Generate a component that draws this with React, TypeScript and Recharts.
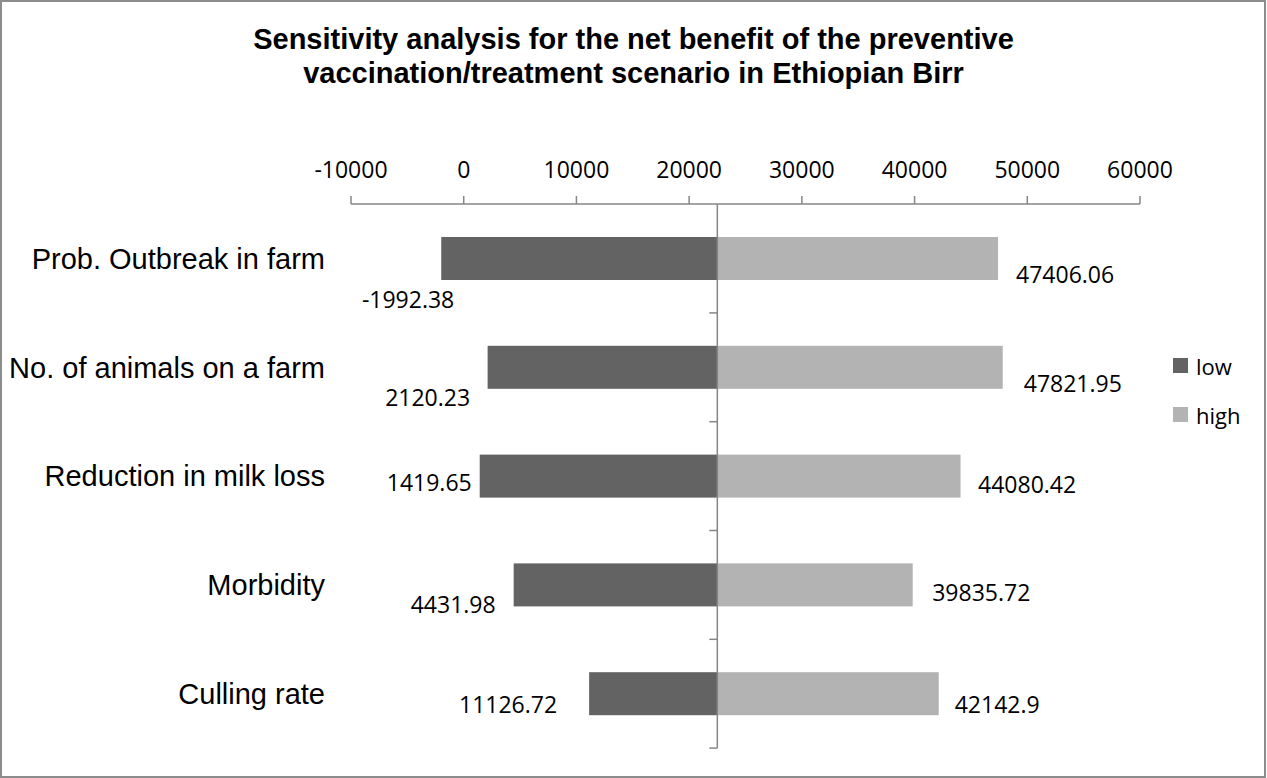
import { BarChart, Bar, XAxis, YAxis, ReferenceLine } from "recharts";

const CATEGORIES = [
	"Prob. Outbreak in farm",
	"No. of animals on a farm",
	"Reduction in milk loss",
	"Morbidity",
	"Culling rate",
];
const LOW = [-1992.38, 2120.23, 1419.65, 4431.98, 11126.72];
const HIGH = [47406.06, 47821.95, 44080.42, 39835.72, 42142.9];
const BASE = 22500;
const X_TICKS = [-10000, 0, 10000, 20000, 30000, 40000, 50000, 60000];

const LOW_COLOR = "#636363";
const HIGH_COLOR = "#b3b3b3";
const AXIS_COLOR = "#868686";
const CALIBRI = "'Open Sans', sans-serif";
const ARIAL = "'Liberation Sans', Arial, sans-serif";

const W = 1267;
const H = 778;
const MARGIN = { top: 120, right: 127, bottom: 30, left: 0 };
const X_AXIS_H = 84;
const PLOT_H = H - MARGIN.top - X_AXIS_H - MARGIN.bottom;

// hand placed data labels, as in the original chart: [dx, dy]
const LOW_NUDGE = [
	[13, 41.5],
	[-17.5, 30],
	[-8, 7],
	[-18, 20],
	[-32, 11.5],
];
const HIGH_NUDGE = [
	[18, 16.5],
	[21, 16],
	[17.5, 9],
	[19.5, 8],
	[16, 11.5],
];

const data = CATEGORIES.map((name, i) => ({
	name,
	low: [LOW[i], BASE],
	high: [BASE, HIGH[i]],
}));

const rowIndex = (p: any) =>
	typeof p.index === "number" ? p.index : CATEGORIES.indexOf(p.payload?.name);

const LowBar = (p: any) => {
	const { x, y, width, height } = p;
	const i = rowIndex(p);
	const cy = y + height / 2;
	const baseX = x + width;
	const band = PLOT_H / CATEGORIES.length;
	const [dx, dy] = LOW_NUDGE[i];
	return (
		<g>
			<rect x={x} y={y} width={width} height={height} fill={LOW_COLOR} />
			<line
				x1={baseX - 8}
				x2={baseX}
				y1={cy + band / 2}
				y2={cy + band / 2}
				stroke={AXIS_COLOR}
				strokeWidth={1.5}
			/>
			<text
				x={x + dx}
				y={cy + dy}
				dy="0.36em"
				textAnchor="end"
				fontFamily={CALIBRI}
				fontSize={23}
				fill="#000"
			>
				{String(LOW[i])}
			</text>
		</g>
	);
};

const HighBar = (p: any) => {
	const { x, y, width, height } = p;
	const i = rowIndex(p);
	const cy = y + height / 2;
	const [dx, dy] = HIGH_NUDGE[i];
	return (
		<g>
			<rect x={x} y={y} width={width} height={height} fill={HIGH_COLOR} />
			<text
				x={x + width + dx}
				y={cy + dy}
				dy="0.36em"
				textAnchor="start"
				fontFamily={CALIBRI}
				fontSize={23}
				fill="#000"
			>
				{String(HIGH[i])}
			</text>
		</g>
	);
};

const CategoryTick = (p: any) => (
	<text
		x={325}
		y={p.y}
		dy="0.36em"
		textAnchor="end"
		fontFamily={ARIAL}
		fontSize={29}
		fill="#000"
	>
		{p.payload.value}
	</text>
);

const legendItems = [
	{ name: "low", color: LOW_COLOR },
	{ name: "high", color: HIGH_COLOR },
];

export default function App() {
	return (
		<div
			style={{
				position: "absolute",
				left: 0,
				top: 0,
				width: W,
				height: H,
				background: "#fff",
			}}
		>
			<div
				style={{
					position: "absolute",
					left: 0,
					top: 0,
					width: W - 1,
					height: H,
					boxSizing: "border-box",
					border: "2px solid #8c8c8c",
				}}
			/>
			<div
				style={{
					position: "absolute",
					left: 0,
					top: 22,
					width: W,
					textAlign: "center",
					fontFamily: ARIAL,
					fontWeight: "bold",
					fontSize: 29,
					lineHeight: "34px",
					color: "#000",
				}}
			>
				Sensitivity analysis for the net benefit of the preventive
				<br />
				vaccination/treatment scenario in Ethiopian Birr
			</div>
			<div style={{ position: "absolute", left: 0, top: 0 }}>
				<BarChart
					width={W}
					height={H}
					layout="vertical"
					data={data}
					margin={MARGIN}
					barSize={43}
					barGap={-43}
				>
					<XAxis
						type="number"
						orientation="top"
						domain={[-10000, 60000]}
						ticks={X_TICKS}
						interval={0}
						height={X_AXIS_H}
						tickSize={8}
						tickMargin={18}
						axisLine={{ stroke: AXIS_COLOR, strokeWidth: 1.5 }}
						tickLine={{ stroke: AXIS_COLOR, strokeWidth: 1.5 }}
						tick={{ fill: "#000", fontFamily: CALIBRI, fontSize: 23 }}
					/>
					<YAxis
						type="category"
						dataKey="name"
						width={351}
						axisLine={false}
						tickLine={false}
						tick={<CategoryTick />}
					/>
					<Bar
						dataKey="low"
						name="low"
						fill={LOW_COLOR}
						shape={<LowBar />}
						isAnimationActive={false}
					/>
					<Bar
						dataKey="high"
						name="high"
						fill={HIGH_COLOR}
						shape={<HighBar />}
						isAnimationActive={false}
					/>
					<ReferenceLine
						x={BASE}
						stroke={AXIS_COLOR}
						strokeWidth={1.5}
					/>
				</BarChart>
			</div>
			{legendItems.map((item, i) => (
				<div
					key={item.name}
					style={{
						position: "absolute",
						left: 1173,
						top: 341 + i * 49,
						height: 49,
						display: "flex",
						alignItems: "center",
						fontFamily: CALIBRI,
						fontSize: 22,
						color: "#000",
					}}
				>
					<span
						style={{
							width: 15,
							height: 15,
							background: item.color,
							marginRight: 8,
						}}
					/>
					{item.name}
				</div>
			))}
		</div>
	);
}
